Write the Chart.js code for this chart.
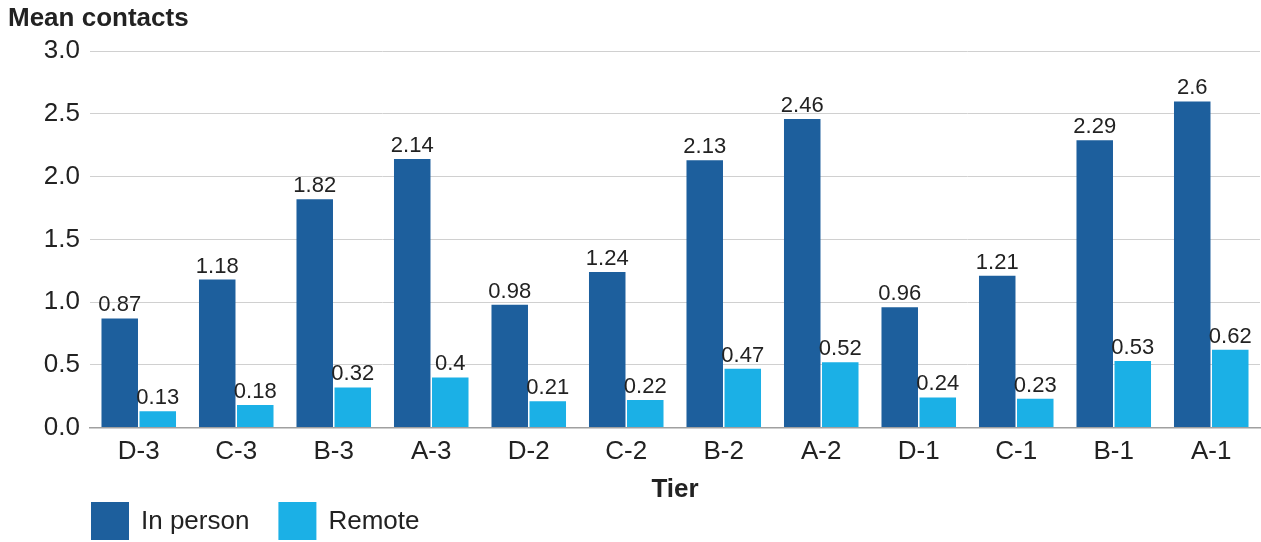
<!DOCTYPE html>
<html>
<head>
<meta charset="utf-8">
<script src="https://cdn.jsdelivr.net/npm/chart.js@4"></script>
<style>
  html, body { margin: 0; padding: 0; background: #fff; }
  #wrap { width: 1261px; height: 542px; position: relative; }
</style>
</head>
<body>
<div id="wrap"><canvas id="grafico"></canvas></div>
<script>
const tiers = ['D-3', 'C-3', 'B-3', 'A-3', 'D-2', 'C-2', 'B-2', 'A-2', 'D-1', 'C-1', 'B-1', 'A-1'];
const inPerson = [0.87, 1.18, 1.82, 2.14, 0.98, 1.24, 2.13, 2.46, 0.96, 1.21, 2.29, 2.6];
const remote = [0.13, 0.18, 0.32, 0.4, 0.21, 0.22, 0.47, 0.52, 0.24, 0.23, 0.53, 0.62];
const seriesNames = ['In person', 'Remote'];
const seriesColors = ['#1d5f9d', '#1bb0e6'];

const FONT = "'Liberation Sans', Arial, sans-serif";
const textColor = '#222';

// valores encima de cada barra
const valueLabels = {
  id: 'valueLabels',
  afterDatasetsDraw(chart) {
    const ctx = chart.ctx;
    ctx.save();
    ctx.font = '22px ' + FONT;
    ctx.fillStyle = textColor;
    ctx.textAlign = 'center';
    ctx.textBaseline = 'alphabetic';
    chart.data.datasets.forEach((ds, i) => {
      chart.getDatasetMeta(i).data.forEach((bar, j) => {
        ctx.fillText(String(ds.data[j]), bar.x, bar.y - 7);
      });
    });
    ctx.restore();
  }
};

// leyenda dibujada a mano abajo a la izquierda
const bottomLegend = {
  id: 'bottomLegend',
  afterDraw(chart) {
    const ctx = chart.ctx;
    ctx.save();
    ctx.font = '26px ' + FONT;
    ctx.textBaseline = 'middle';
    let x = 91;
    const y = 502, size = 38;
    seriesNames.forEach((name, i) => {
      ctx.fillStyle = seriesColors[i];
      ctx.fillRect(x, y, size, size);
      ctx.fillStyle = textColor;
      ctx.fillText(name, x + size + 12, y + size / 2 + 1);
      x += size + 12 + ctx.measureText(name).width + 29;
    });
    ctx.restore();
  }
};

new Chart(document.getElementById('grafico'), {
  type: 'bar',
  data: {
    labels: tiers,
    datasets: [
      { label: seriesNames[0], data: inPerson, backgroundColor: seriesColors[0] },
      { label: seriesNames[1], data: remote, backgroundColor: seriesColors[1] }
    ]
  },
  options: {
    responsive: true,
    maintainAspectRatio: false,
    animation: false,
    events: [],
    layout: { padding: { left: 8, right: 1, top: 0, bottom: 37 } },
    datasets: {
      bar: { categoryPercentage: 0.78, barPercentage: 0.96 }
    },
    plugins: {
      legend: { display: false },
      tooltip: { enabled: false },
      title: {
        display: true,
        text: 'Mean contacts',
        align: 'start',
        color: textColor,
        font: { family: FONT, size: 26, weight: 'bold', lineHeight: 1.2 },
        padding: { top: 3, bottom: 17 }
      }
    },
    scales: {
      x: {
        grid: { display: false, drawTicks: false },
        border: { display: true, color: '#a0a0a0', width: 1.5 },
        ticks: { color: textColor, padding: 9, font: { family: FONT, size: 26 } },
        title: {
          display: true,
          text: 'Tier',
          color: textColor,
          padding: { top: -3, bottom: 0 },
          font: { family: FONT, size: 26, weight: 'bold' }
        }
      },
      y: {
        min: 0,
        max: 3,
        afterFit(scale) { scale.width = 82; },
        grid: { color: '#d0d0d0', lineWidth: 1, drawTicks: false },
        border: { display: false },
        ticks: {
          stepSize: 0.5,
          padding: 10,
          color: textColor,
          font: { family: FONT, size: 26 },
          callback: v => v.toFixed(1)
        }
      }
    }
  },
  plugins: [valueLabels, bottomLegend]
});
</script>
</body>
</html>
